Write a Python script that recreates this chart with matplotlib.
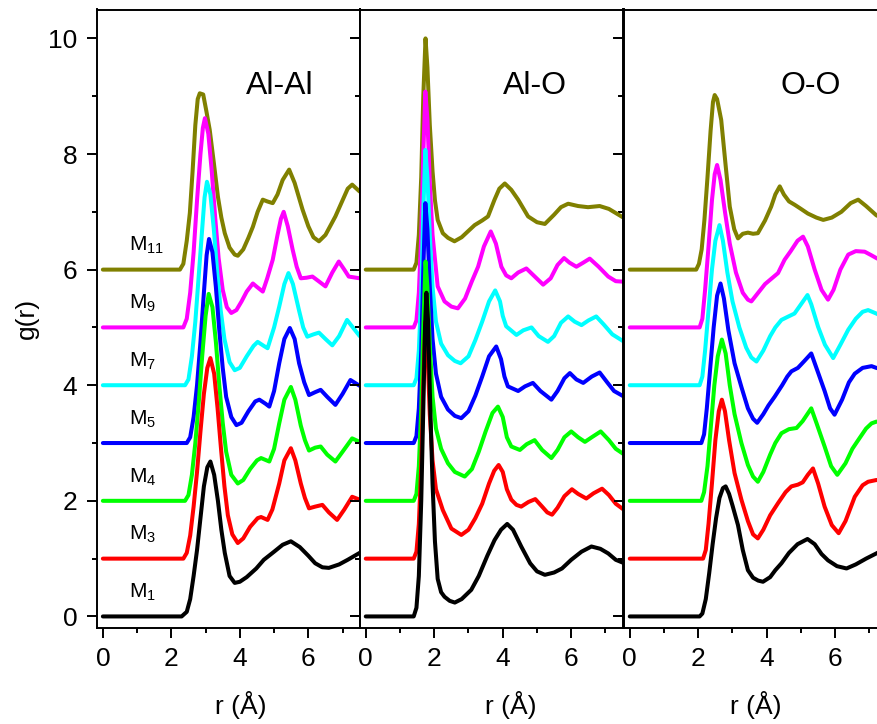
import matplotlib
matplotlib.use("Agg")
import matplotlib.pyplot as plt
from matplotlib.ticker import MultipleLocator

plt.rcParams["font.family"] = ["Liberation Sans", "DejaVu Sans"]
plt.rcParams["mathtext.fontset"] = "custom"
plt.rcParams["mathtext.rm"] = "Liberation Sans"
plt.rcParams["mathtext.default"] = "regular"

# sample names, vertical offsets and colours (bottom to top)
names = ["M$_{1}$", "M$_{3}$", "M$_{4}$", "M$_{5}$", "M$_{7}$", "M$_{9}$", "M$_{11}$"]
offsets = [0, 1, 2, 3, 4, 5, 6]
colors = ["#000000", "#FF0000", "#00FF00", "#0000FF", "#00FFFF", "#FF00FF", "#808000"]
pair_titles = ["Al-Al", "Al-O", "O-O"]

# g(r), (r, g) without the vertical offset
alal_m1 = [(0, 0), (2.3, 0), (2.45, 0.08), (2.55, 0.3), (2.65, 0.7), (2.75, 1.15), (2.85, 1.7),
           (2.95, 2.25), (3.05, 2.58), (3.14, 2.68), (3.25, 2.45), (3.36, 2.0), (3.46, 1.5),
           (3.56, 1.1), (3.7, 0.7), (3.85, 0.58), (4.0, 0.6), (4.2, 0.68), (4.48, 0.83),
           (4.7, 0.98), (5.0, 1.12), (5.25, 1.24), (5.49, 1.3), (5.75, 1.2), (6.0, 1.05),
           (6.2, 0.92), (6.41, 0.85), (6.6, 0.84), (6.9, 0.9), (7.15, 0.98), (7.5, 1.1)]
alal_m3 = [(0, 0), (2.35, 0), (2.45, 0.1), (2.55, 0.4), (2.65, 0.9), (2.75, 1.5), (2.85, 2.2),
           (2.95, 2.85), (3.05, 3.3), (3.14, 3.47), (3.25, 3.2), (3.35, 2.6), (3.45, 1.9),
           (3.55, 1.25), (3.65, 0.75), (3.78, 0.42), (3.94, 0.27), (4.1, 0.35), (4.3, 0.55),
           (4.52, 0.7), (4.62, 0.72), (4.81, 0.67), (4.95, 0.85), (5.15, 1.3), (5.3, 1.7),
           (5.49, 1.91), (5.62, 1.7), (5.78, 1.3), (5.9, 1.05), (6.02, 0.87), (6.2, 0.9),
           (6.41, 0.93), (6.6, 0.8), (6.84, 0.67), (7.05, 0.85), (7.28, 1.07), (7.5, 1.02)]
alal_m4 = [(0, 0), (2.4, 0), (2.5, 0.1), (2.6, 0.45), (2.7, 1.0), (2.8, 1.7), (2.9, 2.5),
           (3.0, 3.2), (3.09, 3.58), (3.2, 3.35), (3.3, 2.75), (3.4, 2.0), (3.5, 1.35),
           (3.6, 0.85), (3.75, 0.45), (3.94, 0.3), (4.1, 0.36), (4.3, 0.55), (4.5, 0.7),
           (4.62, 0.74), (4.86, 0.68), (5.0, 0.9), (5.15, 1.34), (5.3, 1.75), (5.49, 1.97),
           (5.62, 1.75), (5.78, 1.3), (5.9, 1.05), (6.02, 0.87), (6.2, 0.92), (6.36, 0.94),
           (6.55, 0.8), (6.79, 0.68), (7.0, 0.85), (7.28, 1.08), (7.5, 1.02)]
alal_m5 = [(0, 0), (2.45, 0), (2.55, 0.1), (2.65, 0.45), (2.75, 1.0), (2.85, 1.75), (2.95, 2.6),
           (3.03, 3.25), (3.1, 3.53), (3.2, 3.3), (3.3, 2.7), (3.4, 1.95), (3.5, 1.3),
           (3.6, 0.8), (3.75, 0.45), (3.9, 0.31), (4.05, 0.35), (4.25, 0.55), (4.45, 0.72),
           (4.57, 0.75), (4.75, 0.68), (4.86, 0.63), (5.0, 0.9), (5.15, 1.38), (5.3, 1.8),
           (5.46, 1.99), (5.6, 1.8), (5.73, 1.38), (5.88, 1.05), (6.02, 0.83), (6.2, 0.88),
           (6.36, 0.92), (6.55, 0.8), (6.79, 0.66), (7.0, 0.85), (7.23, 1.09), (7.5, 0.99)]
alal_m7 = [(0, 0), (2.4, 0), (2.5, 0.1), (2.6, 0.5), (2.7, 1.1), (2.8, 1.9), (2.9, 2.7),
           (2.97, 3.25), (3.04, 3.52), (3.14, 3.3), (3.24, 2.7), (3.34, 1.95), (3.44, 1.3),
           (3.55, 0.8), (3.7, 0.4), (3.85, 0.26), (4.0, 0.3), (4.2, 0.5), (4.4, 0.68),
           (4.52, 0.75), (4.7, 0.68), (4.81, 0.64), (5.0, 1.0), (5.15, 1.36), (5.3, 1.75),
           (5.42, 1.94), (5.55, 1.75), (5.73, 1.29), (5.85, 1.0), (5.97, 0.84), (6.15, 0.88),
           (6.31, 0.91), (6.5, 0.8), (6.7, 0.69), (6.9, 0.85), (7.13, 1.13), (7.3, 1.0),
           (7.5, 0.85)]
alal_m9 = [(0, 0), (2.35, 0), (2.45, 0.15), (2.55, 0.6), (2.65, 1.3), (2.75, 2.2), (2.85, 3.0),
           (2.92, 3.45), (2.98, 3.62), (3.08, 3.35), (3.18, 2.7), (3.28, 1.9), (3.38, 1.2),
           (3.5, 0.65), (3.62, 0.35), (3.75, 0.25), (3.9, 0.3), (4.05, 0.45), (4.2, 0.62),
           (4.38, 0.76), (4.5, 0.7), (4.67, 0.62), (4.8, 0.85), (4.96, 1.17), (5.1, 1.6),
           (5.2, 1.88), (5.28, 2.0), (5.4, 1.75), (5.54, 1.35), (5.66, 1.05), (5.78, 0.85),
           (5.95, 0.86), (6.12, 0.88), (6.3, 0.8), (6.5, 0.71), (6.7, 0.95), (6.89, 1.14),
           (7.05, 1.0), (7.18, 0.88), (7.5, 0.85)]
alal_m11 = [(0, 0), (2.25, 0), (2.35, 0.1), (2.45, 0.5), (2.54, 0.98), (2.62, 1.7), (2.7, 2.5),
            (2.77, 2.95), (2.83, 3.05), (2.93, 3.03), (3.02, 2.75), (3.12, 2.42), (3.24, 1.85),
            (3.36, 1.26), (3.46, 0.9), (3.56, 0.63), (3.7, 0.38), (3.85, 0.26), (3.94, 0.24),
            (4.1, 0.35), (4.25, 0.55), (4.38, 0.74), (4.52, 1.0), (4.67, 1.21), (4.8, 1.18),
            (4.96, 1.15), (5.1, 1.3), (5.25, 1.55), (5.44, 1.73), (5.6, 1.5), (5.83, 1.04),
            (6.0, 0.75), (6.15, 0.56), (6.31, 0.49), (6.5, 0.6), (6.79, 0.92), (7.0, 1.2),
            (7.15, 1.4), (7.28, 1.47), (7.5, 1.35)]

alo_m1 = [(0, 0), (1.4, 0), (1.48, 0.15), (1.55, 0.7), (1.62, 2.0), (1.68, 3.6), (1.73, 5.0),
          (1.77, 5.6), (1.82, 5.1), (1.88, 3.7), (1.95, 2.3), (2.02, 1.3), (2.1, 0.65),
          (2.2, 0.42), (2.3, 0.34), (2.45, 0.27), (2.6, 0.24), (2.8, 0.3), (3.08, 0.46),
          (3.3, 0.7), (3.55, 1.05), (3.76, 1.32), (3.95, 1.5), (4.13, 1.6), (4.3, 1.5),
          (4.54, 1.21), (4.8, 0.92), (5.0, 0.78), (5.23, 0.72), (5.5, 0.76), (5.73, 0.83),
          (6.0, 0.98), (6.3, 1.12), (6.59, 1.21), (6.85, 1.17), (7.08, 1.09), (7.3, 0.98),
          (7.55, 0.92)]
alo_m3 = [(0, 0), (1.4, 0), (1.48, 0.12), (1.55, 0.6), (1.62, 1.6), (1.68, 3.0), (1.74, 4.1),
          (1.8, 3.6), (1.87, 2.5), (1.95, 1.7), (2.05, 1.2), (2.25, 0.84), (2.5, 0.52),
          (2.79, 0.41), (3.0, 0.5), (3.2, 0.7), (3.4, 0.95), (3.6, 1.3), (3.75, 1.52),
          (3.88, 1.62), (4.0, 1.5), (4.12, 1.2), (4.25, 1.02), (4.4, 0.93), (4.54, 0.9),
          (4.75, 0.98), (4.95, 1.03), (5.15, 0.9), (5.3, 0.8), (5.44, 0.76), (5.6, 0.88),
          (5.8, 1.08), (6.02, 1.2), (6.2, 1.12), (6.44, 1.04), (6.65, 1.13), (6.9, 1.21),
          (7.1, 1.1), (7.3, 0.95), (7.55, 0.84)]
alo_m4 = [(0, 0), (1.4, 0), (1.48, 0.12), (1.55, 0.6), (1.62, 1.6), (1.68, 3.0), (1.745, 4.14),
          (1.8, 3.7), (1.87, 2.7), (1.95, 1.8), (2.05, 1.25), (2.2, 0.9), (2.4, 0.65),
          (2.6, 0.5), (2.89, 0.42), (3.1, 0.55), (3.3, 0.85), (3.5, 1.2), (3.7, 1.52),
          (3.86, 1.63), (4.0, 1.45), (4.12, 1.1), (4.25, 0.94), (4.5, 0.88), (4.7, 0.98),
          (4.93, 1.05), (5.15, 0.88), (5.42, 0.74), (5.6, 0.88), (5.8, 1.1), (6.0, 1.2),
          (6.2, 1.1), (6.4, 1.02), (6.6, 1.1), (6.86, 1.2), (7.1, 1.05), (7.3, 0.9),
          (7.55, 0.8)]
alo_m5 = [(0, 0), (1.4, 0), (1.48, 0.12), (1.55, 0.6), (1.62, 1.6), (1.68, 3.0), (1.74, 4.15),
          (1.8, 3.7), (1.87, 2.7), (1.95, 1.8), (2.05, 1.2), (2.2, 0.8), (2.4, 0.58),
          (2.6, 0.47), (2.79, 0.43), (3.0, 0.55), (3.2, 0.82), (3.4, 1.15), (3.6, 1.5),
          (3.81, 1.67), (3.95, 1.45), (4.05, 1.15), (4.15, 0.98), (4.45, 0.9), (4.65, 0.98),
          (4.88, 1.04), (5.1, 0.9), (5.42, 0.75), (5.6, 0.9), (5.8, 1.12), (5.96, 1.21),
          (6.15, 1.1), (6.35, 1.04), (6.6, 1.15), (6.83, 1.22), (7.05, 1.05), (7.25, 0.9),
          (7.55, 0.8)]
alo_m7 = [(0, 0), (1.4, 0), (1.48, 0.12), (1.55, 0.6), (1.62, 1.6), (1.68, 3.0), (1.74, 4.07),
          (1.8, 3.6), (1.87, 2.6), (1.95, 1.7), (2.05, 1.1), (2.2, 0.72), (2.4, 0.52),
          (2.6, 0.42), (2.77, 0.38), (3.0, 0.5), (3.2, 0.78), (3.4, 1.1), (3.6, 1.45),
          (3.78, 1.64), (3.92, 1.45), (4.0, 1.2), (4.1, 1.02), (4.4, 0.87), (4.6, 0.95),
          (4.84, 1.0), (5.05, 0.85), (5.32, 0.75), (5.5, 0.85), (5.7, 1.08), (5.91, 1.19),
          (6.1, 1.1), (6.3, 1.04), (6.5, 1.12), (6.73, 1.19), (6.95, 1.05), (7.2, 0.88),
          (7.55, 0.75)]
alo_m9 = [(0, 0), (1.4, 0), (1.48, 0.12), (1.55, 0.6), (1.62, 1.6), (1.68, 3.0), (1.74, 4.08),
          (1.8, 3.6), (1.87, 2.5), (1.95, 1.6), (2.1, 0.71), (2.3, 0.45), (2.5, 0.36),
          (2.69, 0.33), (2.9, 0.5), (3.1, 0.8), (3.28, 1.05), (3.45, 1.4), (3.65, 1.66),
          (3.8, 1.45), (3.96, 1.05), (4.1, 0.9), (4.25, 0.85), (4.45, 0.95), (4.69, 1.02),
          (4.9, 0.9), (5.18, 0.74), (5.4, 0.85), (5.6, 1.08), (5.79, 1.2), (5.95, 1.12),
          (6.15, 1.05), (6.35, 1.12), (6.54, 1.19), (6.8, 1.05), (7.08, 0.88), (7.3, 0.8),
          (7.55, 0.79)]
alo_m11 = [(0, 0), (1.4, 0), (1.48, 0.12), (1.55, 0.6), (1.62, 1.6), (1.68, 3.0), (1.745, 4.0),
           (1.8, 3.5), (1.87, 2.5), (1.95, 1.7), (2.02, 1.2), (2.1, 0.86), (2.25, 0.63),
           (2.4, 0.55), (2.59, 0.49), (2.8, 0.56), (2.98, 0.66), (3.18, 0.77), (3.4, 0.85),
           (3.57, 0.92), (3.76, 1.21), (3.9, 1.4), (4.06, 1.49), (4.25, 1.38), (4.45, 1.21),
           (4.74, 0.92), (5.0, 0.82), (5.23, 0.79), (5.5, 0.95), (5.7, 1.08), (5.91, 1.14),
           (6.2, 1.1), (6.49, 1.08), (6.83, 1.1), (7.1, 1.05), (7.55, 0.89)]

oo_m1 = [(0, 0), (2.04, 0), (2.12, 0.05), (2.22, 0.3), (2.32, 0.75), (2.42, 1.25), (2.52, 1.7),
         (2.62, 2.05), (2.72, 2.22), (2.8, 2.25), (2.9, 2.12), (3.0, 1.92), (3.16, 1.58),
         (3.3, 1.15), (3.45, 0.8), (3.6, 0.67), (3.75, 0.62), (3.89, 0.6), (4.1, 0.68),
         (4.25, 0.8), (4.43, 0.92), (4.65, 1.1), (4.9, 1.25), (5.19, 1.34), (5.4, 1.25),
         (5.6, 1.08), (5.79, 0.97), (6.05, 0.87), (6.33, 0.83), (6.6, 0.9), (6.9, 1.0),
         (7.2, 1.09), (7.4, 1.15)]
oo_m3 = [(0, 0), (2.14, 0), (2.22, 0.15), (2.3, 0.6), (2.4, 1.3), (2.5, 2.05), (2.6, 2.55),
         (2.69, 2.75), (2.78, 2.55), (2.9, 2.05), (3.06, 1.48), (3.26, 1.02), (3.45, 0.65),
         (3.6, 0.42), (3.74, 0.35), (3.9, 0.5), (4.1, 0.75), (4.33, 0.96), (4.55, 1.15),
         (4.72, 1.25), (4.91, 1.28), (5.05, 1.32), (5.2, 1.45), (5.35, 1.56), (5.5, 1.3),
         (5.69, 0.9), (5.9, 0.58), (6.1, 0.44), (6.3, 0.65), (6.57, 1.07), (6.8, 1.27),
         (6.96, 1.33), (7.2, 1.36), (7.4, 1.35)]
oo_m4 = [(0, 0), (2.09, 0), (2.17, 0.15), (2.27, 0.6), (2.37, 1.3), (2.47, 2.0), (2.57, 2.5),
         (2.69, 2.79), (2.8, 2.55), (2.92, 2.0), (3.06, 1.5), (3.26, 1.0), (3.45, 0.62),
         (3.6, 0.42), (3.74, 0.33), (3.9, 0.5), (4.1, 0.8), (4.25, 1.0), (4.43, 1.17),
         (4.65, 1.24), (4.87, 1.26), (5.05, 1.38), (5.3, 1.6), (5.45, 1.35), (5.69, 0.94),
         (5.88, 0.6), (6.06, 0.45), (6.3, 0.65), (6.5, 0.9), (6.67, 1.05), (6.9, 1.25),
         (7.06, 1.34), (7.2, 1.37), (7.4, 1.36)]
oo_m5 = [(0, 0), (2.09, 0), (2.17, 0.15), (2.25, 0.6), (2.35, 1.3), (2.45, 2.0), (2.55, 2.55),
         (2.65, 2.76), (2.75, 2.5), (2.88, 1.95), (3.06, 1.38), (3.26, 0.97), (3.45, 0.6),
         (3.6, 0.42), (3.72, 0.35), (3.9, 0.5), (4.05, 0.65), (4.23, 0.8), (4.45, 1.0),
         (4.6, 1.15), (4.72, 1.24), (4.91, 1.3), (5.1, 1.42), (5.3, 1.55), (5.45, 1.3),
         (5.69, 0.9), (5.85, 0.6), (5.98, 0.49), (6.2, 0.75), (6.4, 1.05), (6.57, 1.2),
         (6.8, 1.3), (7.06, 1.33), (7.2, 1.3), (7.4, 1.27)]
oo_m7 = [(0, 0), (2.04, 0), (2.12, 0.15), (2.2, 0.6), (2.3, 1.3), (2.4, 2.0), (2.5, 2.5),
         (2.62, 2.77), (2.72, 2.5), (2.85, 1.95), (3.0, 1.45), (3.2, 1.0), (3.4, 0.65),
         (3.55, 0.48), (3.7, 0.41), (3.9, 0.6), (4.1, 0.85), (4.25, 1.0), (4.43, 1.13),
         (4.6, 1.18), (4.81, 1.24), (5.0, 1.4), (5.19, 1.56), (5.3, 1.4), (5.5, 1.01),
         (5.7, 0.7), (5.94, 0.47), (6.15, 0.7), (6.38, 0.96), (6.6, 1.15), (6.8, 1.27),
         (6.96, 1.3), (7.2, 1.24), (7.4, 1.18)]
oo_m9 = [(0, 0), (2.04, 0), (2.12, 0.15), (2.2, 0.65), (2.3, 1.4), (2.4, 2.2), (2.48, 2.65),
         (2.55, 2.81), (2.65, 2.55), (2.78, 2.0), (2.92, 1.45), (3.1, 0.95), (3.3, 0.6),
         (3.45, 0.48), (3.55, 0.45), (3.75, 0.6), (3.95, 0.75), (4.15, 0.85), (4.33, 0.94),
         (4.52, 1.17), (4.7, 1.32), (4.9, 1.5), (5.06, 1.57), (5.2, 1.4), (5.4, 1.0),
         (5.6, 0.65), (5.79, 0.48), (5.95, 0.65), (6.15, 1.0), (6.38, 1.26), (6.6, 1.32),
         (6.86, 1.31), (7.05, 1.25), (7.2, 1.2), (7.4, 1.14)]
oo_m11 = [(0, 0), (1.94, 0), (2.02, 0.1), (2.1, 0.35), (2.18, 0.86), (2.27, 1.6), (2.36, 2.4),
          (2.43, 2.9), (2.48, 3.02), (2.55, 2.95), (2.67, 2.59), (2.8, 1.8), (2.92, 1.09),
          (3.05, 0.7), (3.16, 0.54), (3.3, 0.62), (3.45, 0.64), (3.6, 0.62), (3.74, 0.63),
          (3.95, 0.85), (4.13, 1.09), (4.25, 1.3), (4.38, 1.44), (4.5, 1.3), (4.65, 1.18),
          (4.82, 1.12), (5.0, 1.05), (5.2, 0.97), (5.45, 0.9), (5.65, 0.86), (5.9, 0.9),
          (6.18, 1.0), (6.45, 1.15), (6.67, 1.21), (6.9, 1.1), (7.2, 0.94), (7.4, 0.88)]

panels = [
    [alal_m1, alal_m3, alal_m4, alal_m5, alal_m7, alal_m9, alal_m11],
    [alo_m1, alo_m3, alo_m4, alo_m5, alo_m7, alo_m9, alo_m11],
    [oo_m1, oo_m3, oo_m4, oo_m5, oo_m7, oo_m9, oo_m11],
]

W, H = 877, 724
fig = plt.figure(figsize=(W / 100, H / 100), dpi=100)

ax_left = [96.7, 359.6, 623.6]
ax_w = 263.0
ax_top, ax_bot = 9.5, 628.0
title_x = [0.697, 0.667, 0.7125]
xlabel_x = [0.549, 0.576, 0.503]

for i, curves in enumerate(panels):
    ax = fig.add_axes([ax_left[i] / W, 1 - ax_bot / H, ax_w / W, (ax_bot - ax_top) / H])
    # M11 first so that M1 ends up on top
    for k in range(len(curves) - 1, -1, -1):
        r = [p[0] for p in curves[k]]
        g = [p[1] + offsets[k] for p in curves[k]]
        ax.plot(r, g, color=colors[k], lw=2.9, solid_joinstyle="round", solid_capstyle="round")

    ax.set_xlim(-0.18, 7.5)
    ax.set_ylim(-0.2, 10.5)
    ax.xaxis.set_major_locator(MultipleLocator(2))
    ax.xaxis.set_minor_locator(MultipleLocator(1))
    ax.yaxis.set_major_locator(MultipleLocator(2))
    ax.yaxis.set_minor_locator(MultipleLocator(1))

    for side in ax.spines.values():
        side.set_linewidth(1.4)

    ax.tick_params(axis="both", which="both", direction="out", top=False, left=True,
                   right=True, width=1.4, labelsize=19, pad=7)
    ax.tick_params(axis="both", which="major", length=7)
    ax.tick_params(axis="both", which="minor", length=3.5)
    ax.tick_params(axis="y", labelleft=(i == 0))
    # ticks on the right spine point into the panel
    for line in ax.yaxis.get_majorticklines()[1::2] + ax.yaxis.get_minorticklines()[1::2]:
        line.set_marker(0)

    ax.text(title_x[i], 0.863, pair_titles[i], transform=ax.transAxes,
            ha="center", va="baseline", fontsize=23)
    ax.text(xlabel_x[i], -0.125, "r (Å)", transform=ax.transAxes,
            ha="center", va="center", fontsize=19)

    if i == 0:
        for k, name in enumerate(names):
            ax.text(0.75, offsets[k] + 0.32, name, ha="left", va="baseline", fontsize=15)

fig.text(27 / W, 1 - 318 / H, "g(r)", rotation=90, ha="center", va="center", fontsize=19)

fig.savefig("out.png", dpi=100)
